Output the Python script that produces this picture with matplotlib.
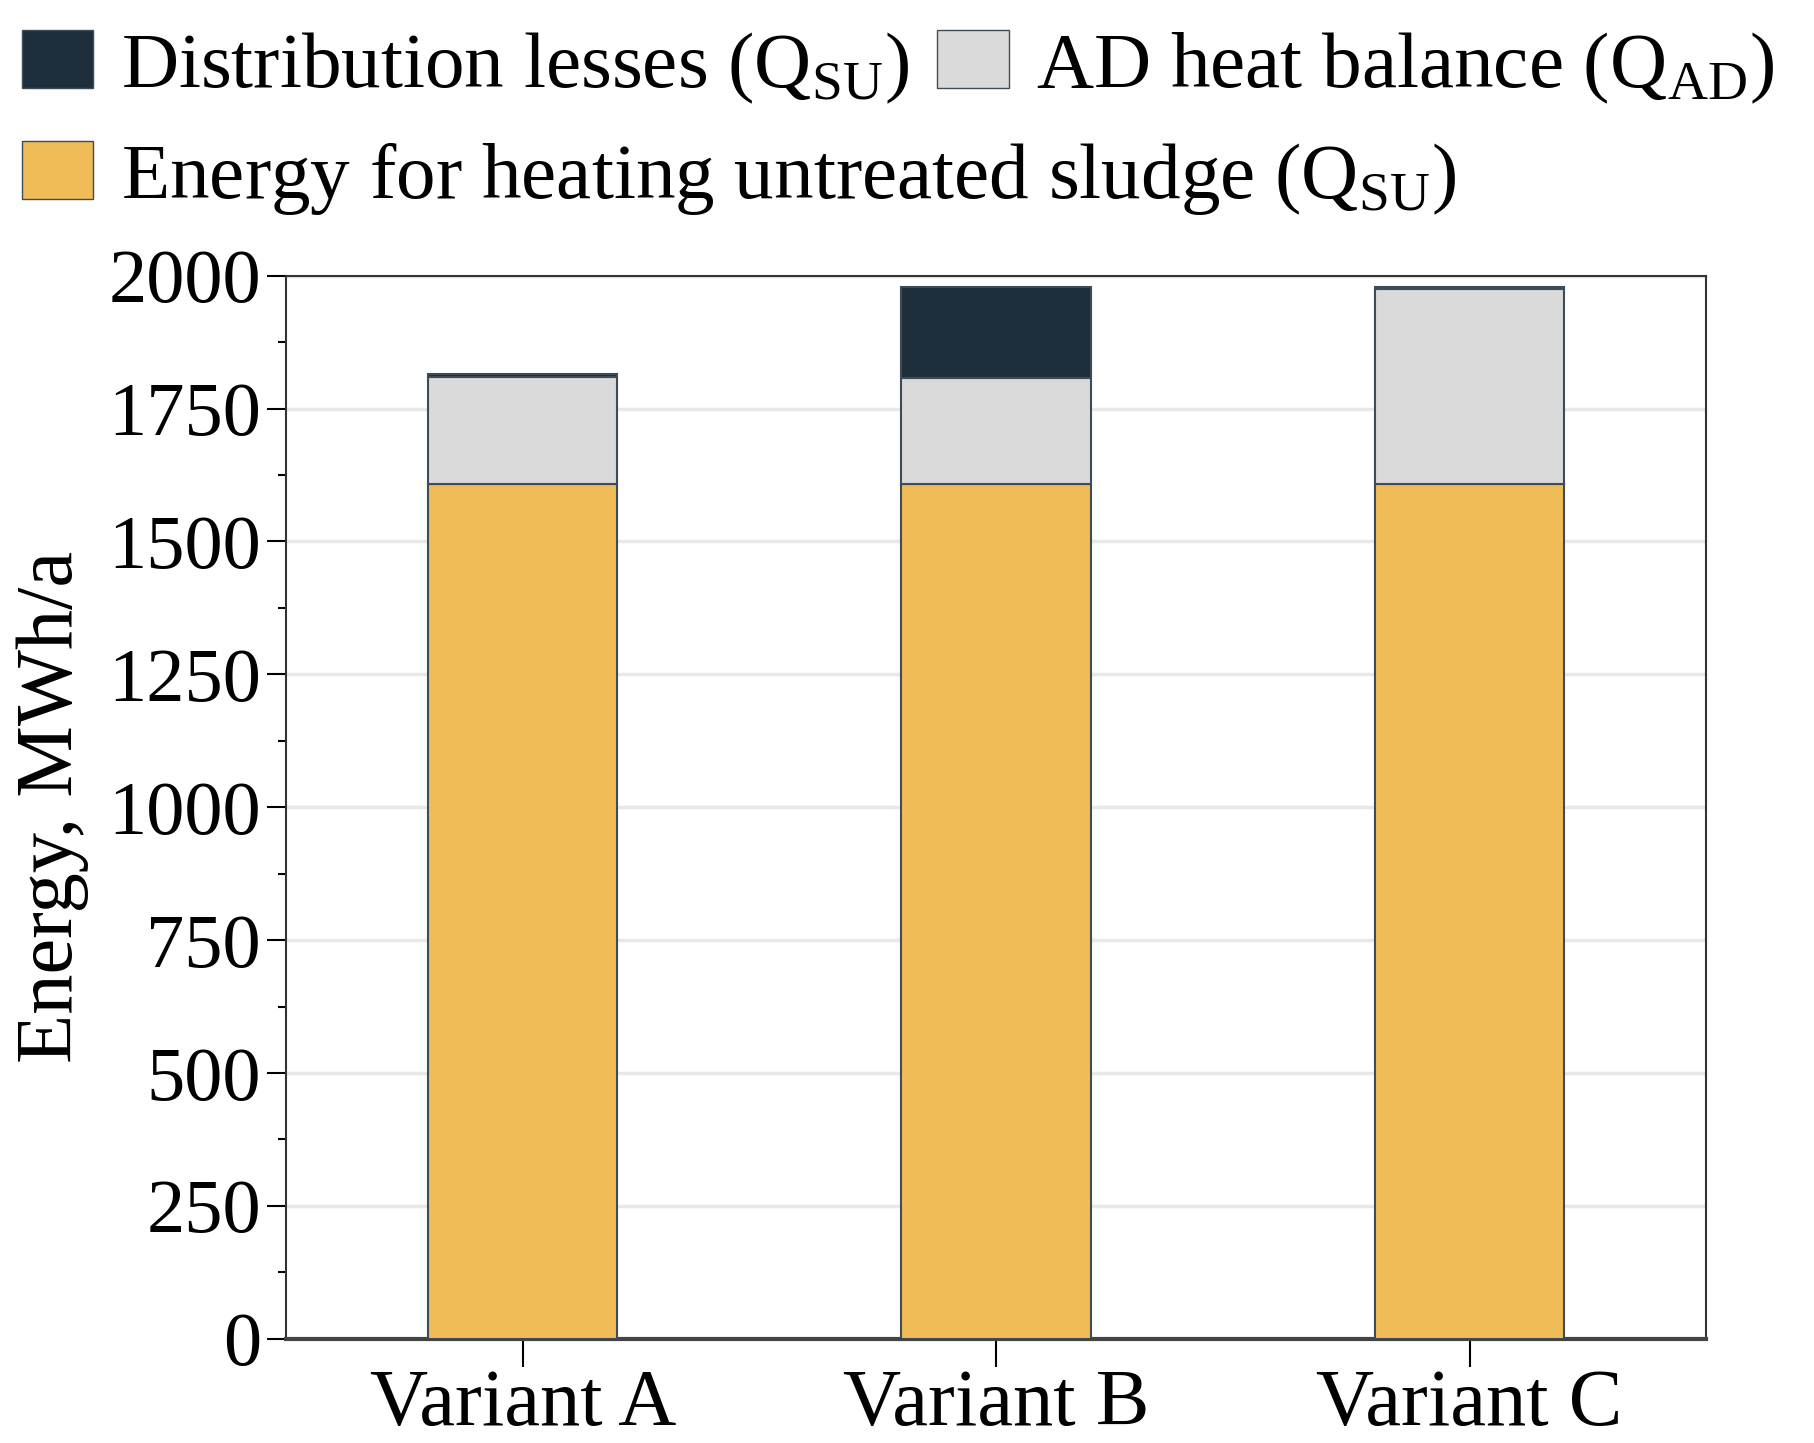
import numpy as np
import matplotlib
matplotlib.use("Agg")
import matplotlib.pyplot as plt
from matplotlib.patches import Patch

plt.rcParams["font.family"] = ["Liberation Serif", "DejaVu Serif"]
plt.rcParams["mathtext.fontset"] = "custom"
plt.rcParams["mathtext.rm"] = "Liberation Serif"

# data (MWh/a)
variants = ["Variant A", "Variant B", "Variant C"]
heating_sludge = [1608, 1608, 1608]
ad_heat_balance = [202, 200, 366]
distribution_losses = [5, 170, 4]

labels = {
    "dist": r"Distribution lesses (Q$_{\mathrm{SU}}$)",
    "ad": r"AD heat balance (Q$_{\mathrm{AD}}$)",
    "su": r"Energy for heating untreated sludge (Q$_{\mathrm{SU}}$)",
}
colors = {"su": "#F0BC57", "ad": "#DADADA", "dist": "#1E2F3C"}
edge = "#3E4C57"

fig = plt.figure(figsize=(18.14, 14.43), dpi=100)
ax = fig.add_axes([0.1577, 0.0722, 0.7829, 0.7368])

x = np.arange(len(variants))
w = 0.4
su = np.array(heating_sludge)
ad = np.array(ad_heat_balance)
dl = np.array(distribution_losses)
ax.bar(x, su, w, color=colors["su"], edgecolor=edge, linewidth=1.5, zorder=3)
ax.bar(x, ad, w, bottom=su, color=colors["ad"], edgecolor=edge, linewidth=1.5, zorder=3)
ax.bar(x, dl, w, bottom=su + ad, color=colors["dist"], edgecolor=edge, linewidth=1.5, zorder=3)

ax.set_xlim(-0.5, 2.5)
ax.set_ylim(0, 2000)
ax.set_xticks(x)
ax.set_xticklabels(variants)
ax.set_yticks(np.arange(0, 2001, 250))
ax.set_yticks(np.arange(125, 2000, 250), minor=True)
ax.grid(axis="y", color="#E8E8E8", linewidth=2.5, zorder=0)
ax.set_axisbelow(True)

ax.tick_params(axis="y", which="major", labelsize=55, length=14, width=1.5, direction="out", pad=4)
ax.tick_params(axis="y", which="minor", length=6, width=1.5, direction="out")
ax.tick_params(axis="x", labelsize=58, length=20, width=1.5, direction="out", pad=2)
ax.set_ylabel("Energy, MWh/a", fontsize=58, labelpad=14)

for side in ["top", "right", "left"]:
    ax.spines[side].set_linewidth(1.5)
    ax.spines[side].set_color("#333333")
ax.spines["bottom"].set_linewidth(3)
ax.spines["bottom"].set_color("#444444")

row1 = [Patch(facecolor=colors["dist"], edgecolor=edge, label=labels["dist"]),
        Patch(facecolor=colors["ad"], edgecolor=edge, label=labels["ad"])]
row2 = [Patch(facecolor=colors["su"], edgecolor=edge, label=labels["su"])]
fig.legend(handles=row1, loc="upper left", bbox_to_anchor=(-0.014, 1.012), ncol=2,
           frameon=False, fontsize=57, handlelength=0.9, handleheight=0.75,
           handletextpad=0.35, columnspacing=0.35, borderaxespad=0.2)
fig.legend(handles=row2, loc="upper left", bbox_to_anchor=(-0.014, 0.936), ncol=1,
           frameon=False, fontsize=57, handlelength=0.9, handleheight=0.75,
           handletextpad=0.35, borderaxespad=0.2)

fig.savefig("out.png", dpi=100)
